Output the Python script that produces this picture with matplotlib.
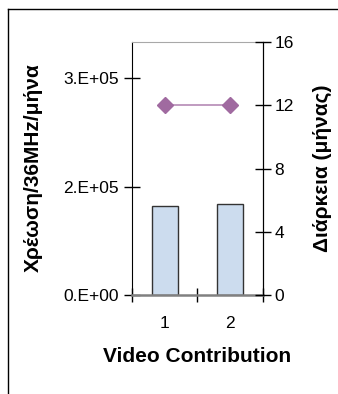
import matplotlib
matplotlib.use("Agg")
import matplotlib.pyplot as plt
from matplotlib.lines import Line2D

plt.rcParams['font.family'] = ['Liberation Sans', 'DejaVu Sans']

categories = ["1", "2"]
charge = [123000, 125500]          # Χρέωση/36MHz/μήνα
duration = [12, 12]                # Διάρκεια (μήνας)
left_ticks = [0, 150000, 300000]
left_labels = ["0.E+00", "2.E+05", "3.E+05"]
right_ticks = [0, 4, 8, 12, 16]

fig = plt.figure(figsize=(3.38, 3.94), dpi=100)
ax = fig.add_axes([0.3914, 0.252, 0.3858, 0.6406])
x = list(range(len(categories)))
ax.bar(x, charge, width=0.4, color="#CCDCEE", edgecolor="#333333", linewidth=1.0, zorder=2)
ax.set_xlim(-0.5, len(categories) - 0.5)
ax.set_ylim(0, 350000)
ax.set_yticks(left_ticks)
ax.set_yticklabels(left_labels)
ax.set_xticks([-0.5, 0.5, 1.5])
ax.set_xticklabels([])
ax.set_xticks(x, minor=True)
ax.set_xticklabels(categories, minor=True)
ax.tick_params(axis='x', which='major', direction='inout', length=10, width=1, color='black')
ax.tick_params(axis='x', which='minor', length=0, pad=15, labelsize=12.5)
ax.tick_params(axis='y', direction='inout', length=11, width=1, labelsize=12.5, pad=4)
ax.spines['left'].set_color('black')
ax.spines['bottom'].set_color('#808080')
ax.spines['bottom'].set_linewidth(1.8)
ax.spines['top'].set_color('#A8A8A8')
ax.spines['right'].set_color('black')
ax.set_xlabel("Video Contribution", fontsize=15, fontweight='bold', labelpad=12)

ax2 = ax.twinx()
ax2.plot(x, duration, color="#B58AB5", linewidth=1.2, marker='D', markersize=8,
         markerfacecolor="#A06AA0", markeredgecolor="#A06AA0", zorder=3)
ax2.set_ylim(0, 16)
ax2.set_yticks(right_ticks)
ax2.tick_params(axis='y', direction='inout', length=11, width=1, labelsize=12.5, pad=3)
for s in ['left', 'top', 'bottom']:
    ax2.spines[s].set_visible(False)
ax2.spines['right'].set_color('black')

fig.text(0.0976, 0.574, "Χρέωση/36MHz/μήνα", rotation=90, fontsize=15,
         fontweight='bold', ha='center', va='center')
fig.text(0.953, 0.574, "Διάρκεια (μήνας)", rotation=90, fontsize=15,
         fontweight='bold', ha='center', va='center')

# outer chart-area frame (cropped)
fig.add_artist(Line2D([8/338, 1.0], [1 - 9/394, 1 - 9/394], transform=fig.transFigure, color='black', lw=1))
fig.add_artist(Line2D([8/338, 8/338], [0.0, 1 - 9/394], transform=fig.transFigure, color='black', lw=1))

fig.savefig("out.png", dpi=100)
